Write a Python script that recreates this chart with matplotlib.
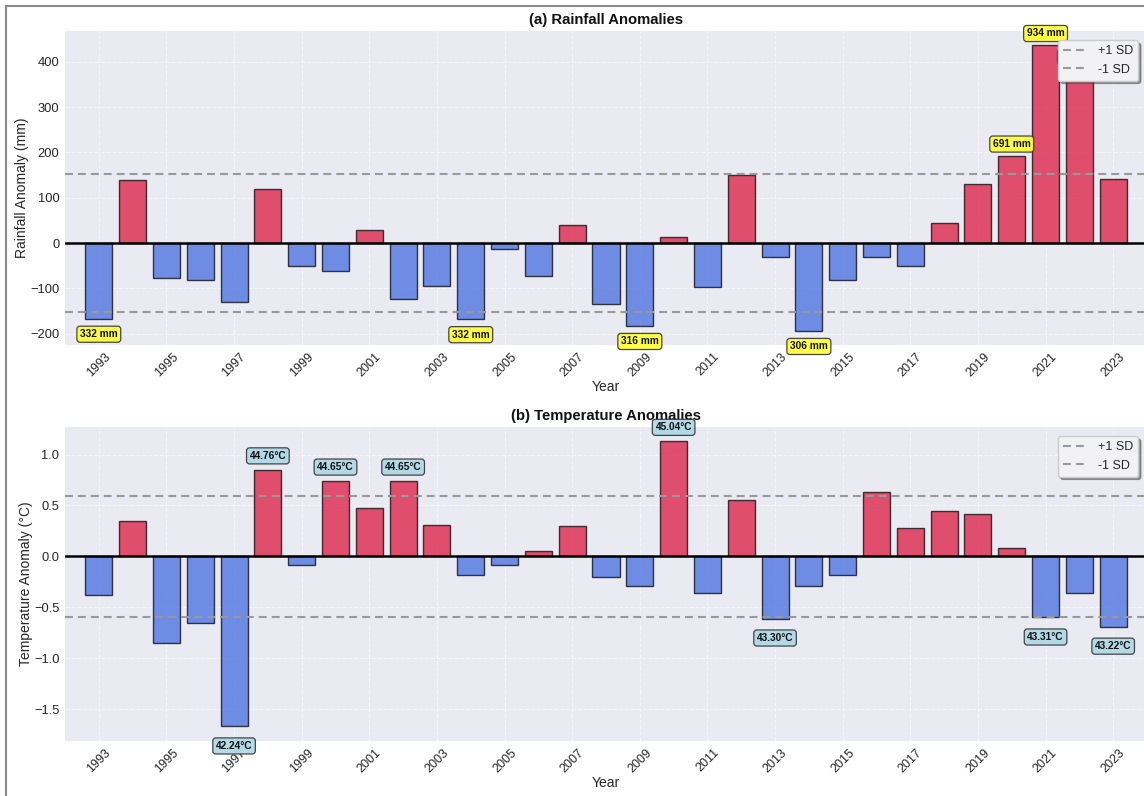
import matplotlib
matplotlib.use("Agg")
import matplotlib.pyplot as plt
from matplotlib.patches import Rectangle
import numpy as np

plt.rcParams['font.family'] = ['Liberation Sans', 'DejaVu Sans']

years = list(range(1993, 2024))

rain_anom = [-167, 140, -77, -82, -130, 119, -51, -62, 29, -124,
             -94, -168, -14, -72, 39, -135, -183, 13, -98, 151,
             -30, -194, -82, -30, -51, 44, 130, 192, 436, 384, 142]
rain_sd = 153
rain_label_years = [1993, 2004, 2009, 2014, 2020, 2021, 2022]
rain_label_text = ["332 mm", "332 mm", "316 mm", "306 mm", "691 mm", "934 mm", "883 mm"]

temp_anom = [-0.38, 0.35, -0.85, -0.65, -1.67, 0.85, -0.08, 0.74, 0.48, 0.74,
             0.31, -0.18, -0.08, 0.05, 0.30, -0.20, -0.29, 1.13, -0.36, 0.55,
             -0.61, -0.29, -0.18, 0.63, 0.28, 0.45, 0.42, 0.08, -0.60, -0.36, -0.69]
temp_sd = 0.595
temp_label_years = [1997, 1998, 2000, 2002, 2010, 2013, 2021, 2023]
temp_label_text = ["42.24°C", "44.76°C", "44.65°C", "44.65°C", "45.04°C",
                   "43.30°C", "43.31°C", "43.22°C"]

xtick_years = list(range(1993, 2024, 2))

W, H = 1144, 796
fig = plt.figure(figsize=(W / 100, H / 100), dpi=100)
fig.patch.set_facecolor('white')

def px_axes(left, top, right, bottom):
    return [left / W, 1 - bottom / H, (right - left) / W, (bottom - top) / H]

ax1 = fig.add_axes(px_axes(65, 31, 1147, 345))
ax2 = fig.add_axes(px_axes(65, 427, 1147, 741))

RED = (220/255, 20/255, 60/255)
BLUE = (65/255, 105/255, 225/255)
TXT = '#262626'

def draw_panel(ax, vals, sd, ylim, yticks, yticklabels, ylabel, title,
               lab_years, lab_text, boxcolor, up_off, down_off):
    ax.set_facecolor('#EAEAF2')
    for s in ax.spines.values():
        s.set_visible(False)
    ax.set_axisbelow(True)
    ax.grid(True, color='white', linestyle='--', linewidth=0.8, alpha=0.6)
    colors = [RED if v >= 0 else BLUE for v in vals]
    ax.bar(years, vals, width=0.8, color=colors, alpha=0.73,
           edgecolor=(0, 0, 0, 0.6), linewidth=1.0, zorder=2)
    ax.axhline(0, color='black', linewidth=1.8, zorder=3)
    ax.axhline(sd, color='#999999', linewidth=1.5, linestyle=(0, (3.8, 2.4)),
               label='+1 SD', zorder=3)
    ax.axhline(-sd, color='#999999', linewidth=1.5, linestyle=(0, (3.8, 2.4)),
               label='-1 SD', zorder=3)
    ax.set_xlim(1992, 2024)
    ax.set_ylim(*ylim)
    ax.set_xticks(xtick_years)
    ax.set_xticklabels([str(y) for y in xtick_years], rotation=45, fontsize=9, color=TXT)
    ax.set_yticks(yticks)
    ax.set_yticklabels(yticklabels, fontsize=9.3, color=TXT)
    ax.tick_params(length=0, pad=4)
    ax.set_xlabel('Year', fontsize=10, color=TXT, labelpad=1)
    ax.set_ylabel(ylabel, fontsize=10, color=TXT, labelpad=1)
    ax.set_title(title, fontsize=10.7, fontweight='bold', color='#111111', pad=5)
    for yr, txt in zip(lab_years, lab_text):
        v = vals[years.index(yr)]
        off = up_off if v >= 0 else -down_off
        ax.annotate(txt, xy=(yr, v), xytext=(0, off), textcoords='offset pixels',
                    ha='center', va='center', fontsize=7.3, fontweight='bold',
                    color='#111111', zorder=5,
                    bbox=dict(boxstyle='round,pad=0.3', facecolor=boxcolor,
                              edgecolor='#333333', linewidth=0.9, alpha=0.9))
    leg = ax.legend(loc='upper right', fontsize=9, shadow=True, frameon=True,
                    facecolor='#F2F2F4', edgecolor='#CCCCCC', framealpha=1.0,
                    handlelength=2.0, borderpad=0.4, bbox_to_anchor=(0.9975, 0.99))
    leg.set_zorder(10)
    for t in leg.get_texts():
        t.set_color(TXT)

draw_panel(ax1, rain_anom, rain_sd, (-225, 468), [-200, -100, 0, 100, 200, 300, 400],
           ['\u2212200', '\u2212100', '0', '100', '200', '300', '400'],
           'Rainfall Anomaly (mm)', '(a) Rainfall Anomalies',
           rain_label_years, rain_label_text, '#FFFF33', 12, 15.5)

draw_panel(ax2, temp_anom, temp_sd, (-1.813, 1.271), [-1.5, -1.0, -0.5, 0.0, 0.5, 1.0],
           ['\u22121.5', '\u22121.0', '\u22120.5', '0.0', '0.5', '1.0'],
           'Temperature Anomaly (°C)', '(b) Temperature Anomalies',
           temp_label_years, temp_label_text, '#ADD8E6', 14, 19.5)

border = Rectangle((6 / W, -0.1), 1.2, 1 - 6 / H + 0.1, transform=fig.transFigure,
                   fill=False, edgecolor='#8a8a8a', linewidth=1.5, zorder=20)
fig.add_artist(border)

fig.savefig('out.png', dpi=100, facecolor='white')
